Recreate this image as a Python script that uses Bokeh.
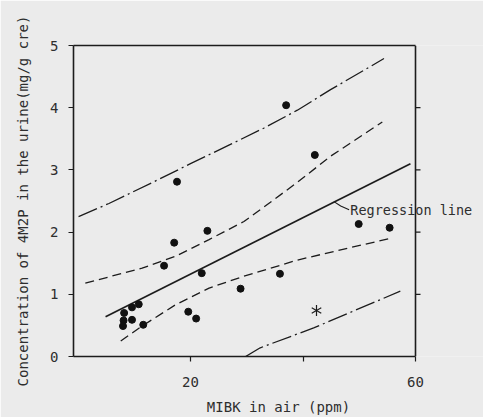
import math
from bokeh.plotting import figure
from bokeh.models import Range1d, LinearAxis, FixedTicker, Label
from bokeh.embed import file_html
from bokeh.resources import INLINE

# ---- data ----
x_points = [8.2, 9.6, 10.8, 8.1, 9.6, 8.0, 11.6, 15.3, 17.1, 17.6,
            19.6, 21.0, 22.0, 23.0, 28.9, 35.9, 37.0, 42.1, 49.9, 55.4]
y_points = [0.70, 0.79, 0.84, 0.58, 0.59, 0.49, 0.51, 1.46, 1.83, 2.81,
            0.72, 0.61, 1.34, 2.02, 1.09, 1.33, 4.04, 3.24, 2.13, 2.07]
outlier_x = [42.4]
outlier_y = [0.74]

reg_x = [4.9, 59.1]
reg_y = [0.64, 3.10]

ci_upper_x = [1.3, 11.4, 17.3, 23.3, 29.5, 33.0, 39.0, 44.9, 54.1]
ci_upper_y = [1.18, 1.42, 1.61, 1.88, 2.17, 2.40, 2.80, 3.22, 3.77]
ci_lower_x = [7.6, 11.4, 17.3, 23.3, 29.5, 39.0, 47.9, 55.6]
ci_lower_y = [0.25, 0.49, 0.83, 1.10, 1.29, 1.55, 1.74, 1.90]

pi_upper_x = [0.1, 5.5, 13.5, 20.0, 27.1, 33.0, 39.0, 44.9, 54.4]
pi_upper_y = [2.25, 2.46, 2.81, 3.10, 3.41, 3.67, 3.96, 4.29, 4.79]
pi_lower_x = [29.8, 32.4, 41.9, 57.3]
pi_lower_y = [0.0, 0.14, 0.46, 1.05]

x_min, x_max = -0.8, 60
y_min, y_max = 0, 5
x_ticks = [20, 40, 60]
x_tick_labels = {20: "20", 40: "", 60: "60"}
y_ticks = [0, 1, 2, 3, 4, 5]
right_ticks = [1, 2, 3, 4]

leader_x = [45.5, 46.7, 48.2]
leader_y = [2.49, 2.42, 2.36]
label_text = "Regression line"

# ---- style ----
BG = "#ebebeb"
INK = "#1c1c1c"
TXT = "#2e2e2e"
FONT = "DejaVu Sans Mono"
W, H = 483, 417
BL, BT, BB = 73, 45, 60
PX_PER_X = 5.625
x_view_end = x_min + (W - BL) / PX_PER_X   # frame extends to the right so the label is not clipped
tick_len = 5 / PX_PER_X

p = figure(width=W, height=H, output_backend="svg", toolbar_location=None,
           x_range=Range1d(x_min, x_view_end), y_range=Range1d(y_min, y_max),
           min_border_left=BL, min_border_right=0,
           min_border_top=BT, min_border_bottom=BB)
p.background_fill_color = BG
p.border_fill_color = BG
p.xgrid.visible = False
p.ygrid.visible = False
p.outline_line_color = None

for ax in (p.xaxis[0], p.yaxis[0]):
    ax.axis_line_color = INK
    ax.axis_line_width = 1.6
    ax.major_tick_line_color = INK
    ax.major_tick_line_width = 1.2
    ax.major_tick_out = 5
    ax.major_tick_in = 0
    ax.minor_tick_line_color = None
    ax.major_label_text_font = FONT
    ax.major_label_text_font_size = "14px"
    ax.major_label_text_color = TXT
    ax.axis_label_text_font = FONT
    ax.axis_label_text_font_size = "14px"
    ax.axis_label_text_font_style = "normal"
    ax.axis_label_text_color = TXT

p.xaxis[0].ticker = FixedTicker(ticks=x_ticks)
p.xaxis[0].bounds = (x_min, x_max)
p.xaxis[0].major_label_overrides = x_tick_labels
p.xaxis[0].axis_label = "MIBK in air (ppm)"
p.xaxis[0].major_label_standoff = 15
p.xaxis[0].axis_label_standoff = 9

p.yaxis[0].ticker = FixedTicker(ticks=y_ticks)
p.yaxis[0].axis_label = "Concentration of 4M2P in the urine(mg/g cre)"
p.yaxis[0].major_label_standoff = 10
p.yaxis[0].axis_label_standoff = 16

# top border of the box as a label-less axis
top = LinearAxis(ticker=FixedTicker(ticks=[]), bounds=(x_min, x_max),
                 axis_line_color=INK, axis_line_width=1.6,
                 major_tick_line_color=None, minor_tick_line_color=None,
                 major_label_text_color=None)
p.add_layout(top, "above")

# right side of the box at x_max with outward ticks
p.segment(x0=[x_max], y0=[y_min], x1=[x_max], y1=[y_max], line_color=INK, line_width=1.6)
p.segment(x0=[x_max] * len(right_ticks), y0=right_ticks,
          x1=[x_max + tick_len] * len(right_ticks), y1=right_ticks,
          line_color=INK, line_width=1.2)

# curves
p.line(pi_upper_x, pi_upper_y, line_color=INK, line_width=1.3, line_dash="20 4 2 4")
p.line(pi_lower_x, pi_lower_y, line_color=INK, line_width=1.3, line_dash="20 4 2 4")
p.line(ci_upper_x, ci_upper_y, line_color=INK, line_width=1.3, line_dash="9 5")
p.line(ci_lower_x, ci_lower_y, line_color=INK, line_width=1.3, line_dash="9 5")
p.line(reg_x, reg_y, line_color=INK, line_width=1.7)

# points
p.scatter(x_points, y_points, size=7, marker="circle", fill_color="#111111", line_color="#111111")
p.scatter(outlier_x * 3, outlier_y * 3, marker="dash", size=11,
          angle=[math.pi / 2, math.pi / 6, -math.pi / 6],
          line_color=INK, line_width=1.2)

# annotation
p.line(leader_x, leader_y, line_color=INK, line_width=1.1)
p.add_layout(Label(x=48.4, y=leader_y[-1], text=label_text, text_baseline="middle",
                   text_font=FONT, text_font_size="13.5px", text_color=TXT))

open("out.html", "w").write(file_html(p, INLINE))
